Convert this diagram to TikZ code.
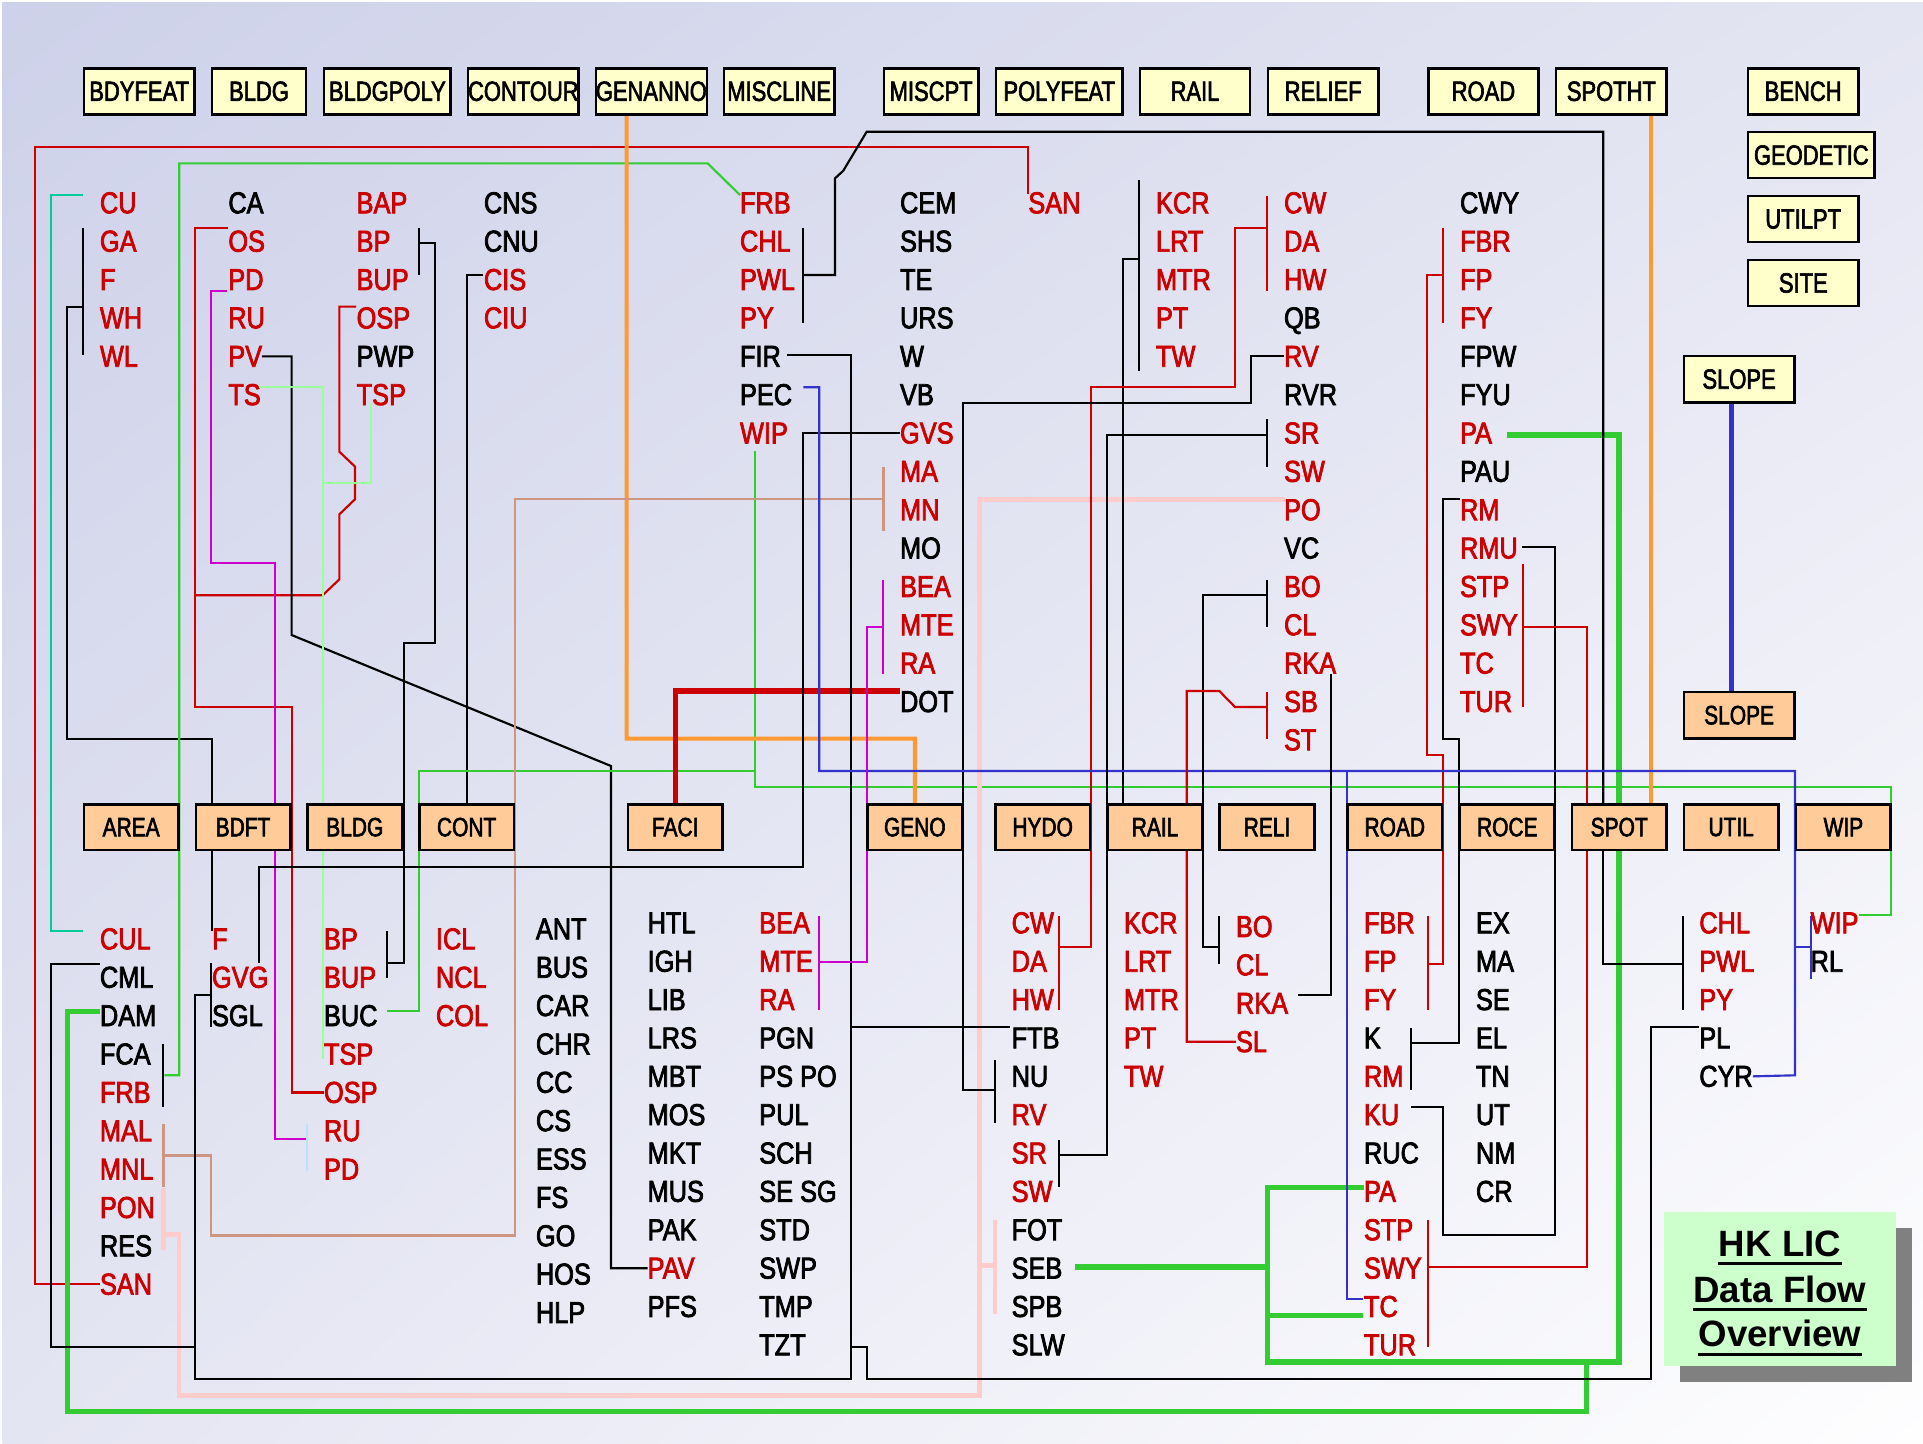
\documentclass[tikz,border=0pt]{standalone}
\usepackage{fontspec}
\setmainfont{Liberation Sans}
\newfontfamily\lfont[FakeStretch=0.84,FakeBold=2.4]{Liberation Sans}
\newfontfamily\bfont[FakeStretch=0.79,FakeBold=2.2]{Liberation Sans}
\usetikzlibrary{calc,shadings}
\pgfdeclarelayer{bg}
\pgfdeclarelayer{wires}
\pgfsetlayers{bg,wires,main}

\definecolor{lcred}{RGB}{204,0,0}
\definecolor{grn}{RGB}{51,204,51}
\definecolor{ltgrn}{RGB}{153,255,153}
\definecolor{tealc}{RGB}{0,204,153}
\definecolor{magc}{RGB}{204,0,204}
\definecolor{ltbl}{RGB}{190,225,250}
\definecolor{tanc}{RGB}{204,150,130}
\definecolor{pinkc}{RGB}{255,204,204}
\definecolor{orgc}{RGB}{255,153,51}
\definecolor{bluec}{RGB}{51,51,204}
\definecolor{boxyel}{RGB}{255,255,204}
\definecolor{boxorg}{RGB}{255,204,153}
\definecolor{ttlgrn}{RGB}{204,255,204}
\definecolor{shadowc}{RGB}{128,128,128}
\definecolor{bgA}{RGB}{205,209,233}
\definecolor{bgB}{RGB}{228,229,242}
\definecolor{bgC}{RGB}{254,254,255}

\tikzset{
  lbl/.style={font=\lfont\fontsize{7pt}{8pt}\selectfont, anchor=base west, inner sep=0pt, outer sep=0pt},
  rd/.style={text=lcred},
  bk/.style={text=black},
  ybox/.style={draw=black, line width=0.6pt, fill=boxyel, inner sep=0pt,
    font=\bfont\fontsize{6.45pt}{7pt}\selectfont, minimum height=3.75mm, minimum width=9mm},
  obox/.style={draw=black, line width=0.6pt, fill=boxorg, inner sep=0pt,
    font=\bfont\fontsize{6.15pt}{7pt}\selectfont, minimum height=3.73mm, minimum width=7.7mm},
  ttl/.style={font=\bfseries\fontsize{8.5pt}{10pt}\selectfont, anchor=base, inner sep=0pt},
  wk/.style={draw=black, line width=0.5pt},
  wr/.style={draw=lcred, line width=0.5pt},
  wg/.style={draw=grn, line width=0.5pt},
  wG/.style={draw=grn, line width=1.2pt},
  wlg/.style={draw=ltgrn, line width=0.5pt},
  wt/.style={draw=tealc, line width=0.5pt},
  wm/.style={draw=magc, line width=0.5pt},
  wlb/.style={draw=ltbl, line width=0.45pt},
  wtan/.style={draw=tanc, line width=0.55pt},
  wp/.style={draw=pinkc, line width=1.1pt},
  wo/.style={draw=orgc, line width=0.95pt},
  wb/.style={draw=bluec, line width=0.5pt},
  wB/.style={draw=bluec, line width=1.15pt},
  wR/.style={draw=lcred, line width=1.2pt},
}

% one column of feature codes: prefix, x, first baseline, items
\newcommand\itemcol[4]{%
  \foreach \txt/\sty [count=\n from 0] in {#4}{%
    \node[lbl,\sty] (#1-\n) at (#2,{#3+31.28*\n}) {\txt};}}

\begin{document}
\begin{tikzpicture}[x=0.1mm,y=-0.1mm]
\begin{pgfonlayer}{bg}
  \fill[white] (0,0) rectangle (1568,1177);
  \shade[upper left=bgA, upper right=bgB, lower left=bgB, lower right=bgC] (2,2) rectangle (1568,1177);
\end{pgfonlayer}
\useasboundingbox (0,0) rectangle (1568,1177);

% ---------- source layers (top row) ----------
\node[ybox] (yBDYFEAT) at (113.45,74.45) {BDYFEAT};
\node[ybox, minimum width=7.66mm] (yBLDG) at (211.2,74.45) {BLDG};
\node[ybox, minimum width=10.33mm] (yBLDGPOLY) at (315.85,74.45) {BLDGPOLY};
\node[ybox] (yCONTOUR) at (426.75,74.45) {CONTOUR};
\node[ybox] (yGENANNO) at (531.1,74.45) {GENANNO};
\node[ybox] (yMISCLINE) at (635.3,74.45) {MISCLINE};
\node[ybox, minimum width=7.69mm] (yMISCPT) at (759.25,74.45) {MISCPT};
\node[ybox, minimum width=10.31mm] (yPOLYFEAT) at (863.65,74.45) {POLYFEAT};
\node[ybox] (yRAIL) at (974.4,74.45) {RAIL};
\node[ybox] (yRELIEF) at (1078.9,74.45) {RELIEF};
\node[ybox] (yROAD) at (1209.6,74.45) {ROAD};
\node[ybox] (ySPOTHT) at (1313.9,74.45) {SPOTHT};
\node[ybox] (yBENCH) at (1470.3,74.45) {BENCH};
\node[ybox, minimum width=10.33mm] (yGEODETIC) at (1476.95,126.5) {GEODETIC};
\node[ybox] (yUTILPT) at (1470.3,178.7) {UTILPT};
\node[ybox] (ySITE) at (1470.4,230.75) {SITE};
\node[ybox, minimum width=8.99mm, minimum height=3.77mm] (ySLOPE) at (1418.05,309.15) {SLOPE};

% ---------- target layers (middle row) ----------
\node[obox] (oAREA) at (106.95,674.45) {AREA};
\node[obox] (oBDFT) at (198.15,674.45) {BDFT};
\node[obox] (oBLDG) at (289.3,674.45) {BLDG};
\node[obox] (oCONT) at (380.5,674.45) {CONT};
\node[obox] (oFACI) at (550.55,674.45) {FACI};
\node[obox] (oGENO) at (745.95,674.45) {GENO};
\node[obox] (oHYDO) at (850.15,674.45) {HYDO};
\node[obox] (oRAIL) at (941.8,674.45) {RAIL};
\node[obox] (oRELI) at (1033.1,674.45) {RELI};
\node[obox] (oROAD) at (1137.3,674.45) {ROAD};
\node[obox] (oROCE) at (1229.05,674.45) {ROCE};
\node[obox] (oSPOT) at (1320.25,674.45) {SPOT};
\node[obox] (oUTIL) at (1411.55,674.45) {UTIL};
\node[obox] (oWIP) at (1503.1,674.45) {WIP};
\node[obox, minimum width=8.99mm, minimum height=3.77mm] (oSLOPE) at (1418.05,583.15) {SLOPE};

% ---------- feature codes of the source layers ----------
\itemcol{t1}{81.5}{173.9}{CU/rd,GA/rd,F/rd,WH/rd,WL/rd}
\itemcol{t2}{186.2}{173.9}{CA/bk,OS/rd,PD/rd,RU/rd,PV/rd,TS/rd}
\itemcol{t3}{290.8}{173.9}{BAP/rd,BP/rd,BUP/rd,OSP/rd,PWP/bk,TSP/rd}
\itemcol{t4}{394.6}{173.9}{CNS/bk,CNU/bk,CIS/rd,CIU/rd}
\itemcol{t5}{603.4}{173.9}{FRB/rd,CHL/rd,PWL/rd,PY/rd,FIR/bk,PEC/bk,WIP/rd}
\itemcol{t6}{733.9}{173.9}{CEM/bk,SHS/bk,TE/bk,URS/bk,W/bk,VB/bk,GVS/rd,MA/rd,MN/rd,MO/bk,BEA/rd,MTE/rd,RA/rd,DOT/bk}
\itemcol{t7}{838.5}{173.9}{SAN/rd}
\itemcol{t8}{942.6}{173.9}{KCR/rd,LRT/rd,MTR/rd,PT/rd,TW/rd}
\itemcol{t9}{1047}{173.9}{CW/rd,DA/rd,HW/rd,QB/bk,RV/rd,RVR/bk,SR/rd,SW/rd,PO/rd,VC/bk,BO/rd,CL/rd,RKA/rd,SB/rd,ST/rd}
\itemcol{t10}{1190.5}{173.9}{CWY/bk,FBR/rd,FP/rd,FY/rd,FPW/bk,FYU/bk,PA/rd,PAU/bk,RM/rd,RMU/rd,STP/rd,SWY/rd,TC/rd,TUR/rd}

% ---------- feature codes of the target layers ----------
\itemcol{u1}{81.5}{774.1}{CUL/rd,CML/bk,DAM/bk,FCA/bk,FRB/rd,MAL/rd,MNL/rd,PON/rd,RES/bk,SAN/rd}
\itemcol{u2}{172.9}{774.1}{F/rd,GVG/rd,SGL/bk}
\itemcol{u3}{264.2}{774.1}{BP/rd,BUP/rd,BUC/bk,TSP/rd,OSP/rd,RU/rd,PD/rd}
\itemcol{u4}{355.5}{774.1}{ICL/rd,NCL/rd,COL/rd}
\itemcol{u5}{437}{765.9}{ANT/bk,BUS/bk,CAR/bk,CHR/bk,CC/bk,CS/bk,ESS/bk,FS/bk,GO/bk,HOS/bk,HLP/bk}
\itemcol{u6}{528.1}{761}{HTL/bk,IGH/bk,LIB/bk,LRS/bk,MBT/bk,MOS/bk,MKT/bk,MUS/bk,PAK/bk,PAV/rd,PFS/bk}
\itemcol{u7}{619.1}{761}{BEA/rd,MTE/rd,RA/rd,PGN/bk,PS PO/bk,PUL/bk,SCH/bk,SE SG/bk,STD/bk,SWP/bk,TMP/bk,TZT/bk}
\itemcol{u8}{824.9}{761}{CW/rd,DA/rd,HW/rd,FTB/bk,NU/bk,RV/rd,SR/rd,SW/rd,FOT/bk,SEB/bk,SPB/bk,SLW/bk}
\itemcol{u9}{916.5}{761}{KCR/rd,LRT/rd,MTR/rd,PT/rd,TW/rd}
\itemcol{u10}{1007.8}{764}{BO/rd,CL/rd,RKA/rd,SL/rd}
\itemcol{u11}{1112.2}{761}{FBR/rd,FP/rd,FY/rd,K/bk,RM/rd,KU/rd,RUC/bk,PA/rd,STP/rd,SWY/rd,TC/rd,TUR/rd}
\itemcol{u12}{1203.5}{761}{EX/bk,MA/bk,SE/bk,EL/bk,TN/bk,UT/bk,NM/bk,CR/bk}
\itemcol{u13}{1385.6}{761}{CHL/rd,PWL/rd,PY/rd,PL/bk,CYR/bk}
\itemcol{u14}{1476.4}{761}{WIP/rd,RL/bk}

% ---------- title panel ----------
\node[fill=shadowc, minimum width=18.9mm, minimum height=12.6mm, inner sep=0pt] (tshadow) at (1464.5,1064) {};
\node[fill=ttlgrn, minimum width=18.92mm, minimum height=12.6mm, inner sep=0pt] (tpanel) at (1451.4,1051) {};
\node[ttl] (ttl1) at (1451.4,1024.5) {HK LIC};
\node[ttl] (ttl2) at (1451.4,1061.7) {Data Flow};
\node[ttl] (ttl3) at (1451.4,1098.3) {Overview};
\foreach \t in {ttl1,ttl2,ttl3}
  \draw[line width=0.65pt] ($(\t.base west)+(0,6)$) -- ($(\t.base east)+(0,6)$);

\begin{pgfonlayer}{wires}
% SAN loop
\draw[wr] (u1-9.west) -| (28.5,119.6) -| (838,158);
% CU -> CUL
\draw[wt] (68,159) -- (41.6,159) -- (41.6,759.1) -- (68,759.1);
% GA..WL -> BDFT -> F
\draw[wk] (68,185.7) -- (68,289.5);
\draw[wk] (68,250) -| (54.9,602.8) -| (172.6,655.8);
\draw[wk] (172.6,693.1) -- (172.6,759.1);
% FRB -> FCA/FRB
\draw[wg] (603.4,159) -- (577,133.2) -- (146.2,133.2) |- (134,876.8);
\draw[wk] (133.2,851) -- (133.2,902.6);
% OS -> OSP, OSP -> OS branch
\draw[wr] (185.7,185.7) -- (159,185.7) |- (237.8,576.5) |- (u3-4.west);
\draw[wr] (290.3,250) -- (276.7,250) -- (276.7,368.3) -- (289.5,380.5) -- (289.5,407.1)
  -- (276.7,419.4) -- (276.7,472.4) -- (263.1,485.4) -- (159,485.4);
% PD/RU -> RU/PD
\draw[wm] (184.8,237.3) -| (172,458.8) -| (224.2,928.4) -- (249.5,928.4);
\draw[wlb] (185.7,225.6) -- (185.7,263.1);
\draw[wlb] (250,916.8) -- (250,954.8);
% PV -> PAV
\draw[wk] (t2-4.east) -| (237.8,517.8) -- (498.2,624.6) |- (u6-9.west);
% TS, TSP -> TSP
\draw[wlg] (211.5,315.3) -| (263.6,863.2);
\draw[wlg] (302.5,328.9) |- (263.6,393.6);
% BP/BUP -> BP/BUP
\draw[wk] (341.9,185.7) -- (341.9,224.2);
\draw[wk] (341.9,198.4) -| (354.7,524.6) -| (329.2,785.5) -- (315.6,785.5);
\draw[wk] (315.6,759.3) -- (315.6,797.6);
% CIS -> CONT
\draw[wk] (394,224.2) -| (oCONT.north);
% WIP -> WIP, BUC
\draw[wg] (615.6,367.5) |- (1541.7,641.7) |- (1516,746.1);
\draw[wg] (615.6,628.7) -| (341.9,824.6) -- (315.3,824.6);
% GENANNO -> GENO, SPOTHT -> SPOT
\draw[wo] (511,93.2) |- (746.1,602.3) -- (oGENO.north);
\draw[wo] (1346.2,93.2) -- (1346.2,655.8);
% SLOPE -> SLOPE
\draw[wB] (1411.5,328) -- (1411.5,564.3);
% FACI -> DOT
\draw[wR] (oFACI.north) |- (733.9,563.4);
% MA/MN -> MAL/MNL
\draw[wtan] (720.3,407.1) -| (419.9,1007.3) -| (172,942.1) -- (133.2,942.1);
\draw[wtan] (720.3,380.5) -- (720.3,433);
\draw[wtan] (133.2,916.8) -- (133.2,967.9);
% PO -> PON/RES, FOT..SPB
\draw[wp] (1047.8,407.1) -| (798.5,1137.7) -| (146,1006.7) -- (133.2,1006.7);
\draw[wp] (133.2,968.4) -- (133.2,1019.5);
\draw[wp] (811.3,994.5) -- (811.3,1071.2);
\draw[wp] (798.5,1031.7) -- (811.3,1031.7);
% PA -> PA, SEB, TC ; DAM
\draw[wG] (1228.5,354.7) -| (1320.1,1110.6) -| (1033.4,968.4) -- (1112.2,968.4);
\draw[wG] (876.5,1033.1) -- (1033.4,1033.1);
\draw[wG] (1033.4,1072.5) -- (1111.6,1072.5);
\draw[wG] (81.5,824.6) -- (55.2,824.6) |- (1293.8,1150.8) -- (1293.8,1110.6);
% FIR -> GVG/SGL, FTB, PL ; CML
\draw[wk] (641.4,289.5) -| (693.9,1124.1) -| (159,811.3) -- (172,811.3);
\draw[wk] (693.9,837.4) -- (823.5,837.4);
\draw[wk] (693.9,1098.3) -| (706.7,1124.1) -| (1346.2,837.4) -- (1385.6,837.4);
\draw[wk] (81.5,785.8) -| (41.6,1098.3) -- (159,1098.3);
\draw[wk] (172,785.5) -- (172,837.4);
% GVS -> GVG
\draw[wk] (t6-6.west) -| (655,707) -| (211.2,785.5);
% CHL/PWL/PY -> SPOT -> CHL/PWL/PY
\draw[wk] (655,185.7) -- (655,263.1);
\draw[wk] (655,224.2) -- (680.9,224.2) -- (680.9,145.4) -- (687.6,139.2) -- (706.7,107.4) -| (1307.3,655.8);
\draw[wk] (1307.3,693.1) |- (1372.6,785.8);
\draw[wk] (1372.6,746.9) -- (1372.6,823.8);
% RM -> K/RM
\draw[wk] (1190.5,407.1) -| (1176.9,602.3) -| (1189.7,850.5) -- (1150.5,850.5);
\draw[wk] (1150.5,838) -- (1150.5,889);
% RMU -> KU
\draw[wk] (1241.3,446) -| (1268,1007.3) -| (1176.4,902.6) -- (1150.5,902.6);
% STP..TUR -> STP..TUR
\draw[wr] (1242.1,459.6) -- (1242.1,576.5);
\draw[wr] (1242.1,511.3) -| (1294,1033.1) -- (1164.6,1033.1);
\draw[wr] (1164.6,994.5) -- (1164.6,1098.3);
% FBR/FP/FY -> FBR/FP/FY
\draw[wr] (1176.9,185.7) -- (1176.9,263.1);
\draw[wr] (1176.9,224.2) -| (1163.3,615.9) -| (1176.5,785.8) -- (1164.1,785.8);
\draw[wr] (1164.1,746.9) -- (1164.1,823.8);
% KCR..TW -> RAIL
\draw[wk] (929,146.8) -- (929,302.5);
\draw[wk] (929,211.2) -| (916,655.8);
% CW/DA/HW -> CW/DA/HW
\draw[wr] (1033.4,159.8) -- (1033.4,237.3);
\draw[wr] (1033.4,185.7) -| (1007,315.3) -| (889.6,771.9) -- (863.8,771.9);
\draw[wr] (863.8,746.9) -- (863.8,823.8);
% RV -> NU/RV
\draw[wk] (t9-4.west) -| (1020,328.9) -| (785.2,889) -- (811.3,889);
\draw[wk] (811.3,864) -- (811.3,915.7);
% PEC -> CYR, WIP/RL, TC
\draw[wb] (655,315.8) -| (668,628.7) -| (1463.6,876.8) -- (u13-4.east);
\draw[wb] (1463.6,771.9) -- (1476.6,771.9);
\draw[wb] (1476.6,746.9) -- (1476.6,798);
\draw[wb] (1098.1,628.7) |- (1111.6,1059.5);
% BEA/MTE/RA -> BEA/MTE/RA
\draw[wm] (720.3,473.2) -- (720.3,549.8);
\draw[wm] (720.3,511.3) -| (707.2,784.4) -- (668,784.4);
\draw[wm] (668,746.9) -- (668,823.8);
% SR/SW -> SR/SW
\draw[wk] (1033.4,341.9) -- (1033.4,380.5);
\draw[wk] (1033.4,354.7) -| (902.4,941.5) -- (863.8,941.5);
\draw[wk] (863.8,929.3) -- (863.8,967.9);
% BO/CL -> BO/CL
\draw[wk] (1033.4,472.9) -- (1033.4,511.3);
\draw[wk] (1033.4,485.4) -| (981.2,771.9) -- (994.2,771.9);
\draw[wk] (994.2,746.9) -- (994.2,786);
% SB/ST -> SL
\draw[wr] (1033.4,564) -- (1033.4,602.3);
\draw[wr] (1033.4,576.5) -- (1007,576.5) -- (994.2,563.4) -- (967.6,563.4) |- (u10-3.west);
% RKA -> RKA
\draw[wk] (1085.3,549.8) |- (1058.6,811.6);
\end{pgfonlayer}
\end{tikzpicture}
\end{document}
